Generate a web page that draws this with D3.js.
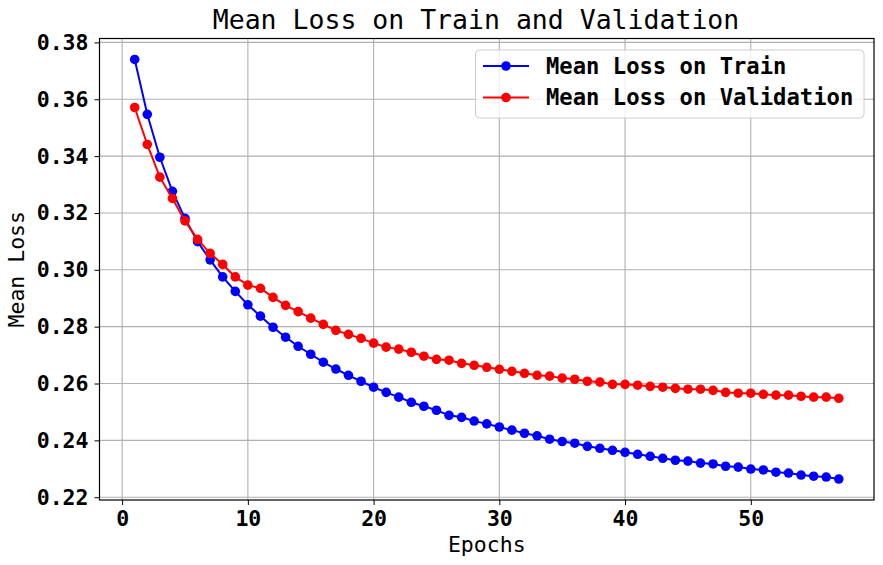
<!doctype html>
<html>
<head>
<meta charset="utf-8">
<script src="https://cdnjs.cloudflare.com/ajax/libs/d3/7.8.5/d3.min.js"></script>
<style>
  body { margin: 0; background: #fff; }
  svg text { font-family: "DejaVu Sans Mono", monospace; }
</style>
</head>
<body>
<svg id="chart" width="883" height="565"></svg>
<script>
// data
var epochs = d3.range(1, 58);
var trainLoss = [0.3740, 0.3547, 0.3396, 0.3276, 0.3181, 0.3099, 0.3035, 0.2975, 0.2924, 0.2877,
  0.2837, 0.2798, 0.2763, 0.2731, 0.2703, 0.2675, 0.2651, 0.2629, 0.2608, 0.2587,
  0.2569, 0.2552, 0.2534, 0.2520, 0.2506, 0.2488, 0.2481, 0.2468, 0.2458, 0.2447,
  0.2436, 0.2425, 0.2416, 0.2404, 0.2396, 0.2390, 0.2379, 0.2372, 0.2365, 0.2358,
  0.2351, 0.2344, 0.2337, 0.2330, 0.2327, 0.2320, 0.2317, 0.2309, 0.2306, 0.2299,
  0.2296, 0.2288, 0.2285, 0.2278, 0.2274, 0.2271, 0.2264];
var valLoss = [0.3571, 0.3441, 0.3326, 0.3251, 0.3172, 0.3107, 0.3058, 0.3019, 0.2975, 0.2946,
  0.2935, 0.2903, 0.2875, 0.2853, 0.2830, 0.2808, 0.2787, 0.2773, 0.2759, 0.2742,
  0.2728, 0.2721, 0.2710, 0.2696, 0.2685, 0.2682, 0.2671, 0.2664, 0.2657, 0.2650,
  0.2643, 0.2636, 0.2629, 0.2626, 0.2619, 0.2615, 0.2608, 0.2605, 0.2597, 0.2597,
  0.2594, 0.2590, 0.2587, 0.2583, 0.2580, 0.2580, 0.2576, 0.2569, 0.2566, 0.2566,
  0.2562, 0.2559, 0.2559, 0.2555, 0.2552, 0.2552, 0.2548];
var xTicks = [0, 10, 20, 30, 40, 50];
var yTicks = [0.22, 0.24, 0.26, 0.28, 0.30, 0.32, 0.34, 0.36, 0.38];
var seriesNames = ["Mean Loss on Train", "Mean Loss on Validation"];
var seriesColors = ["#0000ff", "#ff0000"];

var svg = d3.select("#chart");
var plotLeft = 99.5, plotRight = 874, plotTop = 38.5, plotBottom = 500;

// matplotlib style 5% margins
var xPad = (57 - 1) * 0.05;
var x = d3.scaleLinear().domain([1 - xPad, 57 + xPad]).range([plotLeft, plotRight]);
var yMin = d3.min(trainLoss.concat(valLoss)), yMax = d3.max(trainLoss.concat(valLoss));
var yPad = (yMax - yMin) * 0.05;
var y = d3.scaleLinear().domain([yMin - yPad, yMax + yPad]).range([plotBottom, plotTop]);

// grid
svg.append("g").selectAll("line").data(xTicks).enter().append("line")
  .attr("x1", d => x(d)).attr("x2", d => x(d)).attr("y1", plotTop).attr("y2", plotBottom)
  .style("stroke", "#b0b0b0").style("stroke-width", "1.1px");
svg.append("g").selectAll("line").data(yTicks).enter().append("line")
  .attr("y1", d => y(d)).attr("y2", d => y(d)).attr("x1", plotLeft).attr("x2", plotRight)
  .style("stroke", "#b0b0b0").style("stroke-width", "1.1px");

// axes
var xAxis = svg.append("g").attr("transform", "translate(0," + plotBottom + ")")
  .call(d3.axisBottom(x).tickValues(xTicks).tickFormat(d3.format("d")).tickSize(5).tickPadding(6));
var yAxis = svg.append("g").attr("transform", "translate(" + plotLeft + ",0)")
  .call(d3.axisLeft(y).tickValues(yTicks).tickFormat(d3.format(".2f")).tickSize(5).tickPadding(6));
[xAxis, yAxis].forEach(function (g) {
  g.select(".domain").remove();
  g.selectAll("line").style("stroke", "#000").style("stroke-width", "1px");
  g.selectAll("text").style("font-family", "'DejaVu Sans Mono', monospace")
    .style("font-size", "21.5px").style("font-weight", "bold").style("fill", "#000");
});

svg.append("rect").attr("x", plotLeft).attr("y", plotTop)
  .attr("width", plotRight - plotLeft).attr("height", plotBottom - plotTop)
  .style("fill", "none").style("stroke", "#000").style("stroke-width", "1.2px");

// lines and markers
var series = [trainLoss, valLoss];
series.forEach(function (vals, i) {
  var line = d3.line().x((d, j) => x(epochs[j])).y(d => y(d));
  svg.append("path").datum(vals).attr("d", line)
    .style("fill", "none").style("stroke", seriesColors[i]).style("stroke-width", "2px");
  svg.append("g").selectAll("circle").data(vals).enter().append("circle")
    .attr("cx", (d, j) => x(epochs[j])).attr("cy", d => y(d)).attr("r", 4.8)
    .style("fill", seriesColors[i]);
});

// titles
svg.append("text").attr("x", 476).attr("y", 29)
  .attr("text-anchor", "middle").style("font-size", "26.5px").text("Mean Loss on Train and Validation");
svg.append("text").attr("x", (plotLeft + plotRight) / 2).attr("y", 552)
  .attr("text-anchor", "middle").style("font-size", "21.5px").text("Epochs");
svg.append("text").attr("transform", "translate(24," + (plotTop + plotBottom) / 2 + ") rotate(-90)")
  .attr("text-anchor", "middle").style("font-size", "21.5px").text("Mean Loss");

// legend
var lg = svg.append("g");
lg.append("rect").attr("x", 475.5).attr("y", 50).attr("width", 388.5).attr("height", 68)
  .attr("rx", 4).style("fill", "rgba(255,255,255,0.8)").style("stroke", "#cccccc").style("stroke-width", "1px");
seriesNames.forEach(function (name, i) {
  var ly = 66 + i * 31.5;
  lg.append("line").attr("x1", 483).attr("x2", 529).attr("y1", ly).attr("y2", ly)
    .style("stroke", seriesColors[i]).style("stroke-width", "2px");
  lg.append("circle").attr("cx", 506).attr("cy", ly).attr("r", 4.8).style("fill", seriesColors[i]);
  lg.append("text").attr("x", 546).attr("y", ly + 7.5)
    .style("font-size", "22.2px").style("font-weight", "bold").text(name);
});
</script>
</body>
</html>
